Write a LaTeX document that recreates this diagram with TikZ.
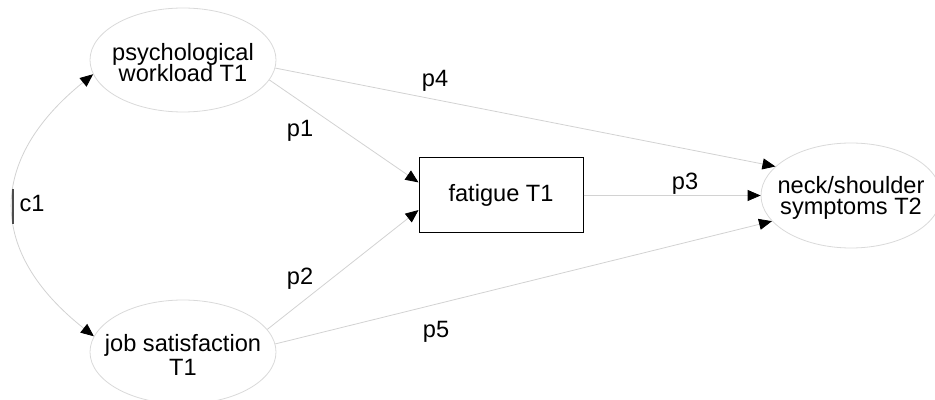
\documentclass[tikz,border=0pt]{standalone}
\usepackage{fontspec}
\setmainfont{Liberation Sans}
\usetikzlibrary{arrows.meta,shapes.geometric}

\begin{document}
\begin{tikzpicture}[x=0.5pt, y=-0.5pt,
    font={\fontsize{11.8}{10}\selectfont\lineskiplimit=-20pt},
    latent/.style={ellipse, draw=gray!30, line width=0.4pt, align=center,
        inner xsep=-8pt, inner ysep=0pt, minimum width=93pt, minimum height=52pt,
        text depth=0pt},
    observed/.style={rectangle, draw=black, line width=0.5pt,
        minimum width=82pt, minimum height=37.5pt},
    effect/.style={draw=gray!35, line width=0.4pt,
        -{Triangle[length=6.5pt, width=5.5pt, color=black]}},
    covar/.style={draw=gray!35, line width=0.4pt,
        {Triangle[length=6.5pt, width=5.5pt, color=black]}-{Triangle[length=6.5pt, width=5.5pt, color=black]}},
    coef/.style={anchor=base}]
    \useasboundingbox (0,0) rectangle (935,400);

    % Variables
    \node[latent, text height=21.7pt] (psych) at (183,60) {psychological\\[0.8pt]workload T1};
    \node[latent, text height=23pt] (jobsat) at (183,352) {job satisfaction\\[2pt]T1};
    \node[observed] (fatigue) at (501,195.5) {fatigue T1};
    \node[latent, text height=19.5pt, minimum width=90pt, minimum height=52.5pt] (neck) at (851,195.5) {neck/shoulder\\[0.8pt]symptoms T2};

    % Correlation between the predictors
    \draw[covar] (psych.189) .. controls (-13,160) and (-13,252) .. (jobsat.170);
    \draw[gray!60!black, line width=0.6pt] (13,189) -- (13,224);
    \node[coef] (c1) at (32,212) {c1};

    % Paths to fatigue
    \draw[effect] (psych.-13) -- (fatigue.171);
    \draw[effect] (jobsat.15) -- (fatigue.190);
    \node[coef] (p1) at (300,137) {p1};
    \node[coef] (p2) at (300,285) {p2};

    % Paths to symptoms
    \draw[effect] (fatigue.east) -- (neck.west);
    \draw[effect] (psych.-5) -- (neck.159);
    \draw[effect] (jobsat.5) -- (neck.198);
    \node[coef] (p3) at (685,190) {p3};
    \node[coef] (p4) at (435,87) {p4};
    \node[coef] (p5) at (436,337) {p5};
\end{tikzpicture}
\end{document}
